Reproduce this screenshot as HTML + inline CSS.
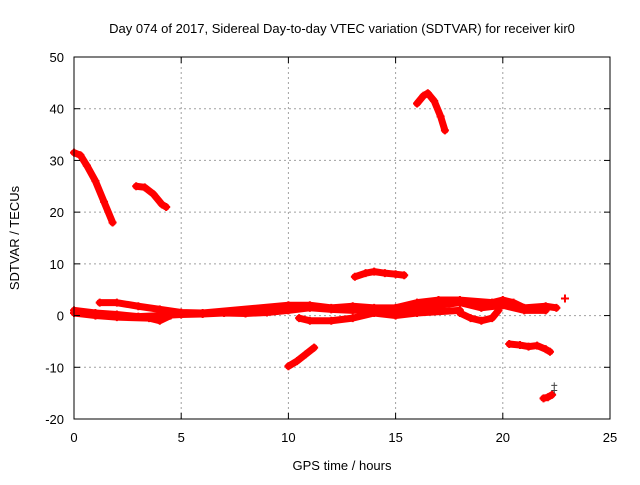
<!DOCTYPE html>
<html><head><meta charset="utf-8"><style>
body{margin:0;background:#fff}
svg text{font-family:"Liberation Sans",sans-serif;font-size:13px;fill:#000}
</style></head><body>
<svg id="chart" width="640" height="480" xmlns="http://www.w3.org/2000/svg">
<rect width="640" height="480" fill="#fff"/>
<text x="342" y="33" text-anchor="middle">Day 074 of 2017, Sidereal Day-to-day VTEC variation (SDTVAR) for receiver kir0</text>
<g id="grid"></g>
<g id="series"></g>
<rect x="74" y="57" width="536" height="362" fill="none" stroke="#000" stroke-width="1"/>
<g id="ticks"></g>
<text x="342" y="470" text-anchor="middle">GPS time / hours</text>
<text transform="translate(19,238) rotate(-90)" text-anchor="middle">SDTVAR / TECUs</text>
</svg>
<script>
const xTicks=[0,5,10,15,20,25];
const yTicks=[-20,-10,0,10,20,30,40,50];
const trackA=[[0,31.5],[0.3,31],[0.6,29],[1.0,26],[1.4,22],[1.8,18]];
const trackB=[[2.9,25],[3.3,24.8],[3.7,23.5],[4.1,21.5],[4.3,21]];
const trackC=[[16.0,41],[16.3,42.5],[16.5,43],[16.8,41.5],[17.1,38.5],[17.3,35.8]];
const trackD=[[13.1,7.5],[13.6,8.2],[14.0,8.5],[14.5,8.2],[15.0,8],[15.4,7.8]];
const trackE=[[10.0,-9.8],[10.4,-8.8],[10.8,-7.5],[11.2,-6.2]];
const trackF=[[20.3,-5.5],[20.8,-5.7],[21.2,-6],[21.6,-5.8],[22.0,-6.5],[22.2,-7]];
const trackG=[[21.9,-16],[22.1,-15.8],[22.3,-15.3]];
const trackH=[[22.9,3.3]];
const band1=[[0,1],[1,0.5],[2,0.2],[3,-0.2],[4,0],[5,0.2],[6,0.3],[7,0.5],[8,0.4],[9,0.6],[10,1],[11,1.5],[12,1.2],[13,1],[14,1.2],[15,1.3],[16,1.5],[17,2],[18,2.5],[19,1.5],[20,2],[21,1],[22,1]];
const band2=[[1.2,2.5],[2,2.5],[3,1.8],[4,1.2],[5,0.6],[6,0.5],[10,2],[11,2],[12,1.5],[13,1.8],[14,1.5],[15,1.5],[16,2.5],[17,3],[18,3],[19.5,2.5],[20,3],[20.5,2.5],[21,1.5],[22,1.8],[22.5,1.5]];
const band3=[[0,0.5],[1,0],[2,-0.3],[3.5,-0.5],[4,-1],[4.5,0]];
const band4=[[10.5,-0.5],[11,-1],[12,-1],[13,-0.5],[14,0.5],[15,0],[16,0.5],[18,1]];
const band5=[[18,0.5],[18.5,-0.5],[19,-1],[19.5,-0.5],[19.8,1]];
const grayMarks=[[22.4,-13.5],[22.4,-14.5]];
const tracks=[trackA,trackB,trackC,trackD,trackE,trackF,trackG,trackH,band1,band2,band3,band4,band5];

const X=v=>74+v*536/25;
const Y=v=>57+(50-v)*362/70;
const NS='http://www.w3.org/2000/svg';
function mk(tag,parent,attrs){const e=document.createElementNS(NS,tag);for(const k in attrs)e.setAttribute(k,attrs[k]);parent.appendChild(e);return e;}
const grid=document.getElementById('grid'),ticks=document.getElementById('ticks'),series=document.getElementById('series');
xTicks.forEach(t=>{
  if(t>0&&t<25){const l=mk('line',grid,{x1:X(t),x2:X(t),y1:57,y2:419,stroke:'#a0a0a0','stroke-dasharray':'2,3'});
  
  }
  mk('line',ticks,{x1:X(t),x2:X(t),y1:419,y2:413,stroke:'#000'});
  mk('line',ticks,{x1:X(t),x2:X(t),y1:57,y2:63,stroke:'#000'});
  const tx=mk('text',ticks,{x:X(t),y:442,'text-anchor':'middle'});tx.textContent=t;
  
  
});
yTicks.forEach(t=>{
  if(t>-20&&t<50){const l=mk('line',grid,{x1:74,x2:610,y1:Y(t),y2:Y(t),stroke:'#a0a0a0','stroke-dasharray':'2,3'});
  
  }
  mk('line',ticks,{x1:74,x2:80,y1:Y(t),y2:Y(t),stroke:'#000'});
  mk('line',ticks,{x1:610,x2:604,y1:Y(t),y2:Y(t),stroke:'#000'});
  const tx=mk('text',ticks,{x:64,y:Y(t)+5,'text-anchor':'end'});tx.textContent=t;
  
  
});
tracks.forEach(tr=>{
  if(tr.length>1){const p=mk('polyline',series,{points:tr.map(d=>X(d[0])+','+Y(d[1])).join(' '),fill:'none',stroke:'#f00','stroke-width':7,'stroke-linejoin':'round','stroke-linecap':'round'});
  
  }
  tr.forEach(d=>{const x=X(d[0]),y=Y(d[1]);
    const m=mk('path',series,{d:`M${x-4},${y}H${x+4}M${x},${y-4}V${y+4}`,stroke:'#f00','stroke-width':2});
    
    });
});
grayMarks.forEach(d=>{const x=X(d[0]),y=Y(d[1]);
  const m=mk('path',series,{d:`M${x-3},${y}H${x+3}M${x},${y-3}V${y+3}`,stroke:'#444','stroke-width':1});
  
  });
</script>
</body></html>
